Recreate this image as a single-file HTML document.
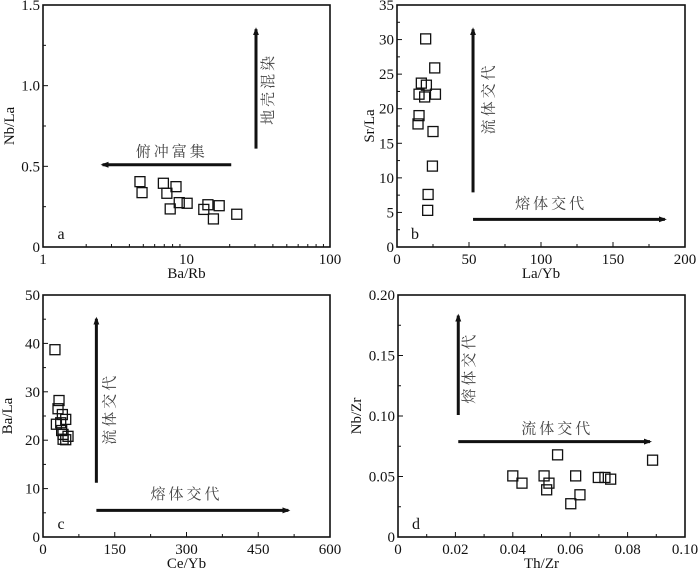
<!DOCTYPE html>
<html><head><meta charset="utf-8"><style>
html,body{margin:0;padding:0;background:#fff;}
svg{display:block;}
text{font-family:"Liberation Serif","Noto Serif CJK SC",serif;fill:#111;}
</style></head><body>
<svg id="fig" width="700" height="569" viewBox="0 0 700 569" xmlns="http://www.w3.org/2000/svg">
<defs><marker id="ah" markerWidth="8" markerHeight="8" refX="6" refY="4" orient="auto" markerUnits="userSpaceOnUse"><path d="M0,1 L8,4 L0,7 Z" fill="#111"/></marker></defs>
</svg>
<script>
// Panel a: Ba/Rb vs Nb/La
const aX=[4.74,4.9,6.9,7.3,8.45,7.7,8.9,10.1,13.2,14.1,16.9,15.4,22.4];
const aY=[0.405,0.337,0.395,0.333,0.374,0.236,0.275,0.271,0.233,0.262,0.256,0.174,0.203];
// Panel b: La/Yb vs Sr/La
const bX=[19.9,26.2,16.9,20.4,15.3,19.2,26.7,15.3,14.6,25.0,24.6,21.6,21.3];
const bY=[30.1,25.9,23.7,23.4,22.1,21.7,22.1,19.0,17.8,16.7,11.7,7.6,5.3];
// Panel c: Ce/Yb vs Ba/La
const cX=[25,33.5,31.4,40.5,47.5,28,37,39,41.9,52.3,42,47.5];
const cY=[38.7,28.2,26.5,25.3,24.3,23.3,23.6,22.0,21.2,20.8,20.2,20.1];
// Panel d: Th/Zr vs Nb/Zr
const dX=[0.040,0.0432,0.0509,0.0526,0.0518,0.0556,0.0619,0.0602,0.0634,0.0698,0.0721,0.0741,0.0887];
const dY=[0.0505,0.0445,0.0505,0.0445,0.039,0.0679,0.0505,0.0275,0.0349,0.0492,0.0492,0.0478,0.0635];
const aXTicks=["1","10","100"], aYTicks=["0","0.5","1.0","1.5"];
const bXTicks=["0","50","100","150","200"], bYTicks=["0","5","10","15","20","25","30","35"];
const cXTicks=["0","150","300","450","600"], cYTicks=["0","10","20","30","40","50"];
const dXTicks=["0","0.02","0.04","0.06","0.08","0.10"], dYTicks=["0","0.05","0.10","0.15","0.20"];

const svg=document.getElementById('fig');
const NS='http://www.w3.org/2000/svg';
function el(tag,attrs,parent){const e=document.createElementNS(NS,tag);for(const k in attrs)e.setAttribute(k,attrs[k]);(parent||svg).appendChild(e);return e;}
function txt(s,x,y,size,anchor,parent,rot){const t=el('text',{x:x,y:y,'font-size':size,'text-anchor':anchor||'middle'},parent);if(rot)t.setAttribute('transform','rotate('+rot+' '+x+' '+y+')');t.textContent=s;return t;}

function panel(o){
  const g=el('g',{});
  
  
  const L=o.L,R=o.R,T=o.T,B=o.B;
  const sx=o.log?(v=>L+(Math.log10(v)-Math.log10(o.x0))/(Math.log10(o.x1)-Math.log10(o.x0))*(R-L)):(v=>L+(v-o.x0)/(o.x1-o.x0)*(R-L));
  const sy=v=>B-(v-o.y0)/(o.y1-o.y0)*(B-T);
  const fr=el('rect',{x:L,y:T,width:R-L,height:B-T,fill:'none',stroke:'#111','stroke-width':1.6},g);
  
  
  if(o.log){
    for(let d=0;d<2;d++)for(let k=2;k<10;k++){const v=Math.pow(10,d)*k;el('line',{x1:sx(v),x2:sx(v),y1:B,y2:B-3,stroke:'#111'},g);}
    o.xt.forEach((s,i)=>{const v=Math.pow(10,i);const t=txt(s,sx(v),B+17,15,'middle',g);});
  } else {
    const n=o.xt.length-1,step=(o.x1-o.x0)/n;
    for(let i=0;i<=n*2;i++){const v=o.x0+i*step/2;el('line',{x1:sx(v),x2:sx(v),y1:B,y2:B-(i%2?3:5),stroke:'#111'},g);}
    o.xt.forEach((s,i)=>{const t=txt(s,sx(o.x0+i*step),B+17,15,'middle',g);});
  }
  const ny=o.yt.length-1,ys=(o.y1-o.y0)/ny;
  const sub=o.ysub||2;
  for(let i=0;i<=ny*sub;i++){const v=o.y0+i*ys/sub;el('line',{x1:L,x2:L+(i%sub?3:5),y1:sy(v),y2:sy(v),stroke:'#111'},g);}
  o.yt.forEach((s,i)=>{const t=txt(s,L-3,sy(o.y0+i*ys)+5,15,'end',g);});
  const xt=txt(o.xl,(L+R)/2,B+31,15,'middle',g);
  
  
  const yt=txt(o.yl,o.ylx,(T+B)/2,15,'middle',g,-90);
  
  
  const pl=txt(o.id,L+18,B-8,16,'middle',g);
  
  
  o.X.forEach((v,i)=>{
    const r=el('rect',{x:sx(v)-5,y:sy(o.Y[i])-5,width:10,height:10,fill:'none',stroke:'#111','stroke-width':1.3},g);
    
    
  });
  o.arrows.forEach(a=>{
    const ln=el('line',{x1:sx(a[0]),y1:sy(a[1]),x2:sx(a[2]),y2:sy(a[3]),stroke:'#111','stroke-width':3,'marker-end':'url(#ah)'},g);
    
    
  });
  o.labels.forEach(l=>{
    const t=txt(l[0],sx(l[1]),sy(l[2]),15,'middle',g,l[3]?-90:0);
    t.setAttribute('letter-spacing','3');
    t.setAttribute('style','fill:#444');
    
    
  });
}
panel({id:'a',L:43,R:330,T:5,B:247,log:true,x0:1,x1:100,y0:0,y1:1.5,X:aX,Y:aY,xt:aXTicks,yt:aYTicks,ysub:2,xl:'Ba/Rb',yl:'Nb/La',ylx:14,
  arrows:[[30.5,0.61,30.5,1.35],[20.5,0.51,2.6,0.51]],labels:[['俯冲富集',7.9,0.56,false],['地壳混染',40,0.98,true]]});
panel({id:'b',L:397,R:685,T:5,B:247,x0:0,x1:200,y0:0,y1:35,X:bX,Y:bY,xt:bXTicks,yt:bYTicks,ysub:2,xl:'La/Yb',yl:'Sr/La',ylx:374,
  arrows:[[52.8,7.9,52.8,31.5],[52.8,4.0,186,4.0]],labels:[['熔体交代',107,5.6,false],['流体交代',67,21.5,true]]});
panel({id:'c',L:43,R:330,T:295,B:537,x0:0,x1:600,y0:0,y1:50,X:cX,Y:cY,xt:cXTicks,yt:cYTicks,ysub:2,xl:'Ce/Yb',yl:'Ba/La',ylx:12,
  arrows:[[111.6,11.2,111.6,45.1],[111.6,5.5,513,5.5]],labels:[['熔体交代',300,7.8,false],['流体交代',150,26.5,true]]});
panel({id:'d',L:398,R:685,T:295,B:537,x0:0,x1:0.1,y0:0,y1:0.2,X:dX,Y:dY,xt:dXTicks,yt:dYTicks,ysub:2,xl:'Th/Zr',yl:'Nb/Zr',ylx:361,
  arrows:[[0.021,0.1008,0.021,0.183],[0.021,0.0788,0.0878,0.0788]],labels:[['流体交代',0.0555,0.0855,false],['熔体交代',0.0265,0.14,true]]});
</script>
</body></html>
